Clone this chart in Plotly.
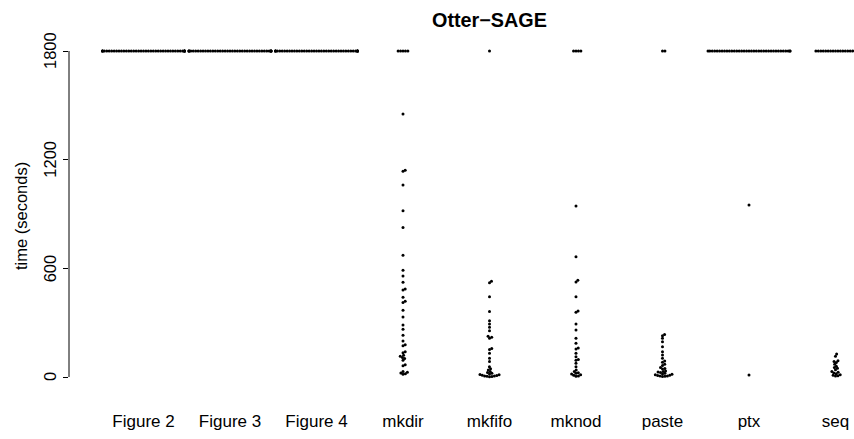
import numpy as np
import plotly.graph_objects as go

# ---------------- data ----------------
categories = ["Figure 2", "Figure 3", "Figure 4", "mkdir", "mkfifo",
              "mknod", "paste", "ptx", "seq"]
TIMEOUT = 1800
# number of runs that hit the timeout (plotted at 1800 s)
timeouts = [40, 40, 40, 5, 1, 4, 2, 36, 17]
# runs that finished before the timeout (seconds)
t_fig2 = []
t_fig3 = []
t_fig4 = []
t_mkdir = [1452, 1142, 1136, 1060, 918, 825, 672, 589, 558, 523, 486, 480,
           440, 418, 412, 368, 331, 287, 263, 230, 199, 178, 172, 140, 134,
           120, 114, 108, 102, 92, 68, 62, 30, 26, 22, 18, 15]
t_mkfifo = [528, 520, 443, 361, 311, 293, 274, 256, 225, 220, 214, 157, 152,
            131, 103, 85, 57, 45, 39, 30, 25, 20, 17, 14, 12, 10, 8, 6, 5, 4,
            3, 2]
t_mknod = [944, 664, 534, 525, 443, 365, 358, 293, 260, 214, 186, 160, 155,
           131, 112, 96, 92, 76, 57, 39, 30, 24, 20, 16, 12, 9, 6, 4]
t_paste = [235, 228, 214, 195, 167, 140, 121, 103, 88, 82, 70, 64, 52, 47, 44,
           33, 30, 27, 25, 20, 17, 15, 12, 10, 8, 6, 5, 4, 3]
t_ptx = [950, 11]
t_seq = [127, 115, 90, 85, 80, 70, 60, 52, 48, 40, 30, 26, 22, 18, 12, 9, 7, 5]
finished = [t_fig2, t_fig3, t_fig4, t_mkdir, t_mkfifo, t_mknod, t_paste,
            t_ptx, t_seq]
y_ticks = [0, 600, 1200, 1800]

# ---------------- layout geometry ----------------
W, H = 854, 439
ML, MR, MT, MB = 69, 0, 38, 49
plot_w = W - ML - MR
plot_h = H - MT - MB
x_range = [0.1387, 9.214]
y_range = [-71.8, 1871.8]
px_per_x = plot_w / (x_range[1] - x_range[0])
px_per_y = plot_h / (y_range[1] - y_range[0])

FONT = "Liberation Sans, Arial, Helvetica, sans-serif"
D = 2.45          # swarm spacing in px
HALF = 41.0       # corral half width in px (gutter)


def swarm(values):
    ys = np.asarray(values, dtype=float) * px_per_y
    order = np.argsort(ys, kind="stable")
    xs = np.zeros(len(ys))
    placed = []
    for i in order:
        y = ys[i]
        near = [(px, py) for px, py in placed if abs(py - y) < D]
        cands = [0.0]
        for px, py in near:
            dx = np.sqrt(max(D * D - (py - y) ** 2, 0.0))
            cands += [px + dx, px - dx]
        cands.sort(key=lambda c: (round(abs(c), 6), -c))
        chosen = cands[-1]
        for c in cands:
            if all((c - px) ** 2 + (y - py) ** 2 >= D * D - 1e-6
                   for px, py in near):
                chosen = c
                break
        xs[i] = chosen
        placed.append((chosen, y))
    xs = np.clip(xs, -HALF, HALF)
    return xs / px_per_x


xs_all, ys_all = [], []
for k, (cat, n_to, fin) in enumerate(zip(categories, timeouts, finished)):
    vals = list(fin) + [TIMEOUT] * n_to
    if not vals:
        continue
    offs = swarm(vals)
    xs_all += list(k + 1 + offs)
    ys_all += vals

fig = go.Figure()
fig.add_trace(go.Scatter(
    x=xs_all, y=ys_all, mode="markers",
    marker=dict(size=3, color="black", line=dict(width=0)),
    showlegend=False, hoverinfo="skip"))

# rotated y tick labels (R style, las=0)
ytick_annots = [
    dict(text=str(v), xref="paper", yref="y", x=(50 - ML) / plot_w, y=v,
         xanchor="center", yanchor="middle", textangle=-90, showarrow=False,
         font=dict(size=16.5, family=FONT))
    for v in y_ticks
]

fig.update_layout(
    width=W, height=H,
    margin=dict(l=ML, r=MR, t=MT, b=MB, pad=0, autoexpand=False),
    paper_bgcolor="white", plot_bgcolor="white",
    font=dict(family=FONT, size=17, color="black"),
    xaxis=dict(range=x_range, tickmode="array",
               tickvals=list(range(1, len(categories) + 1)),
               ticktext=categories, showline=False, ticks="",
               showgrid=False, zeroline=False, ticklabelstandoff=19,
               automargin=False, tickfont=dict(size=17)),
    yaxis=dict(range=y_range, tickmode="array", tickvals=y_ticks,
               showticklabels=False,
               ticks="outside", ticklen=5, tickwidth=1, tickcolor="black",
               showline=False, showgrid=False, zeroline=False,
               automargin=False),
    shapes=[dict(type="line", xref="paper", yref="y", x0=0, x1=0,
                 y0=y_ticks[0], y1=y_ticks[-1],
                 line=dict(color="black", width=1))],
    annotations=[
        dict(text="<b>Otter\u2212SAGE</b>", xref="paper", yref="paper",
             x=(489.2 - ML) / plot_w, y=1 + (MT - 20) / plot_h,
             xanchor="center", yanchor="middle", showarrow=False,
             font=dict(size=19.8, family=FONT)),
        dict(text="time (seconds)", xref="paper", yref="paper",
             x=(21 - ML) / plot_w, y=(H - MB - 216) / plot_h,
             xanchor="center", yanchor="middle", textangle=-90,
             showarrow=False, font=dict(size=16.5, family=FONT)),
    ] + ytick_annots,
)

fig.write_html(
    "out.html",
    config={"responsive": False, "displayModeBar": False},
    post_script="document.body.style.margin='0';"
                "document.body.style.overflow='hidden';",
)
